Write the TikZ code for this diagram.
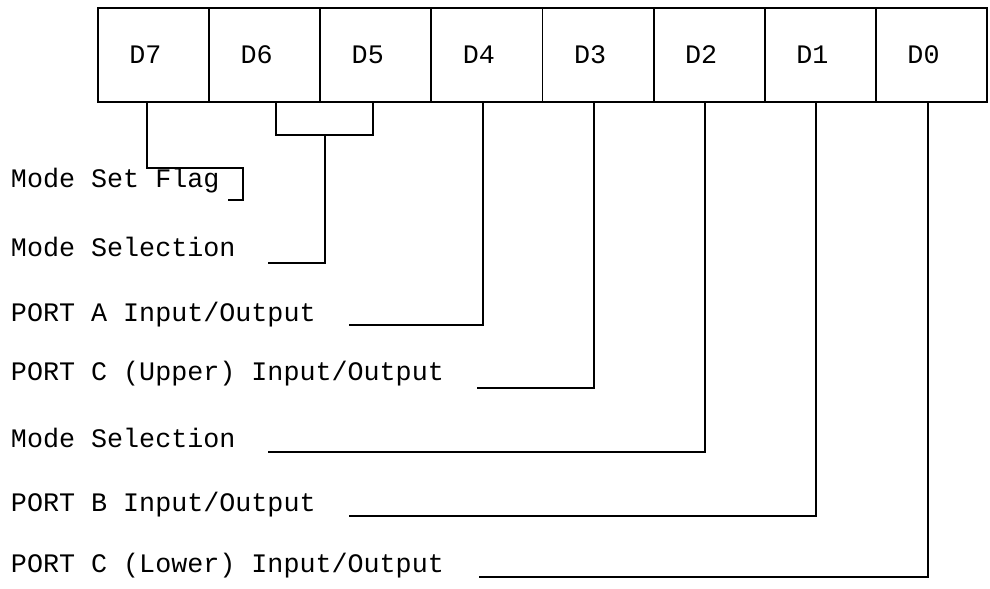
\documentclass[tikz,border=0pt]{standalone}
\usepackage{fontspec}
\setmonofont{Liberation Mono}
\usetikzlibrary{matrix}
\newlength{\CellWidth}
\newlength{\CellHeight}
\setlength{\CellWidth}{27.78mm}
\setlength{\CellHeight}{23.5mm}
\tikzset{
  bit cell/.style={draw, rectangle, minimum width=\CellWidth, minimum height=\CellHeight, inner sep=0pt, align=center, anchor=center, font=\ttfamily\fontsize{19}{22}\selectfont},
  field text/.style={draw=none, anchor=base west, inner sep=0pt, font=\ttfamily\fontsize{19}{22}\selectfont}
}

\begin{document}
\begin{tikzpicture}[x=0.025cm, y=0.025cm, line width=1.4pt]
  \useasboundingbox (0,0) rectangle (990,-588);

  \matrix (reg) [
    matrix of nodes,
    nodes={bit cell},
    column sep=-\pgflinewidth,
    anchor=center
  ] at (542.5,-55) {
    D7 & D6 & D5 & D4 & D3 & D2 & D1 & D0 \\
  };

  \node[field text] (fflag)   at (10,-187) {Mode Set Flag};
  \node[field text] (fmodea)  at (10,-256) {Mode Selection};
  \node[field text] (fportA)  at (10,-321) {PORT A Input/Output};
  \node[field text] (fportCu) at (10,-380) {PORT C (Upper) Input/Output};
  \node[field text] (fmodeb)  at (10,-447) {Mode Selection};
  \node[field text] (fportB)  at (10,-511) {PORT B Input/Output};
  \node[field text] (fportCl) at (10,-572) {PORT C (Lower) Input/Output};

  \coordinate (kflag)   at (243,-168);
  \coordinate (eflag)   at (228,-200);
  \coordinate (kmode)   at (325,-135);
  \coordinate (emodea)  at (268,-263);
  \coordinate (eportA)  at (349,-325);
  \coordinate (eportCu) at (477,-388);
  \coordinate (emodeb)  at (268,-452);
  \coordinate (eportB)  at (349,-516);
  \coordinate (eportCl) at (479,-577);

  \draw ([xshift=-1.6mm]reg-1-1.south) |- (kflag) |- (eflag);
  \draw ([xshift=2.75mm]reg-1-2.south) |- (kmode) -| ([xshift=-0.75mm]reg-1-3.south);
  \draw (kmode) |- (emodea);
  \foreach \c/\e in {4/eportA,5/eportCu,6/emodeb,7/eportB,8/eportCl}
    \draw ([xshift=-1mm]reg-1-\c.south) |- (\e);
\end{tikzpicture}
\end{document}
